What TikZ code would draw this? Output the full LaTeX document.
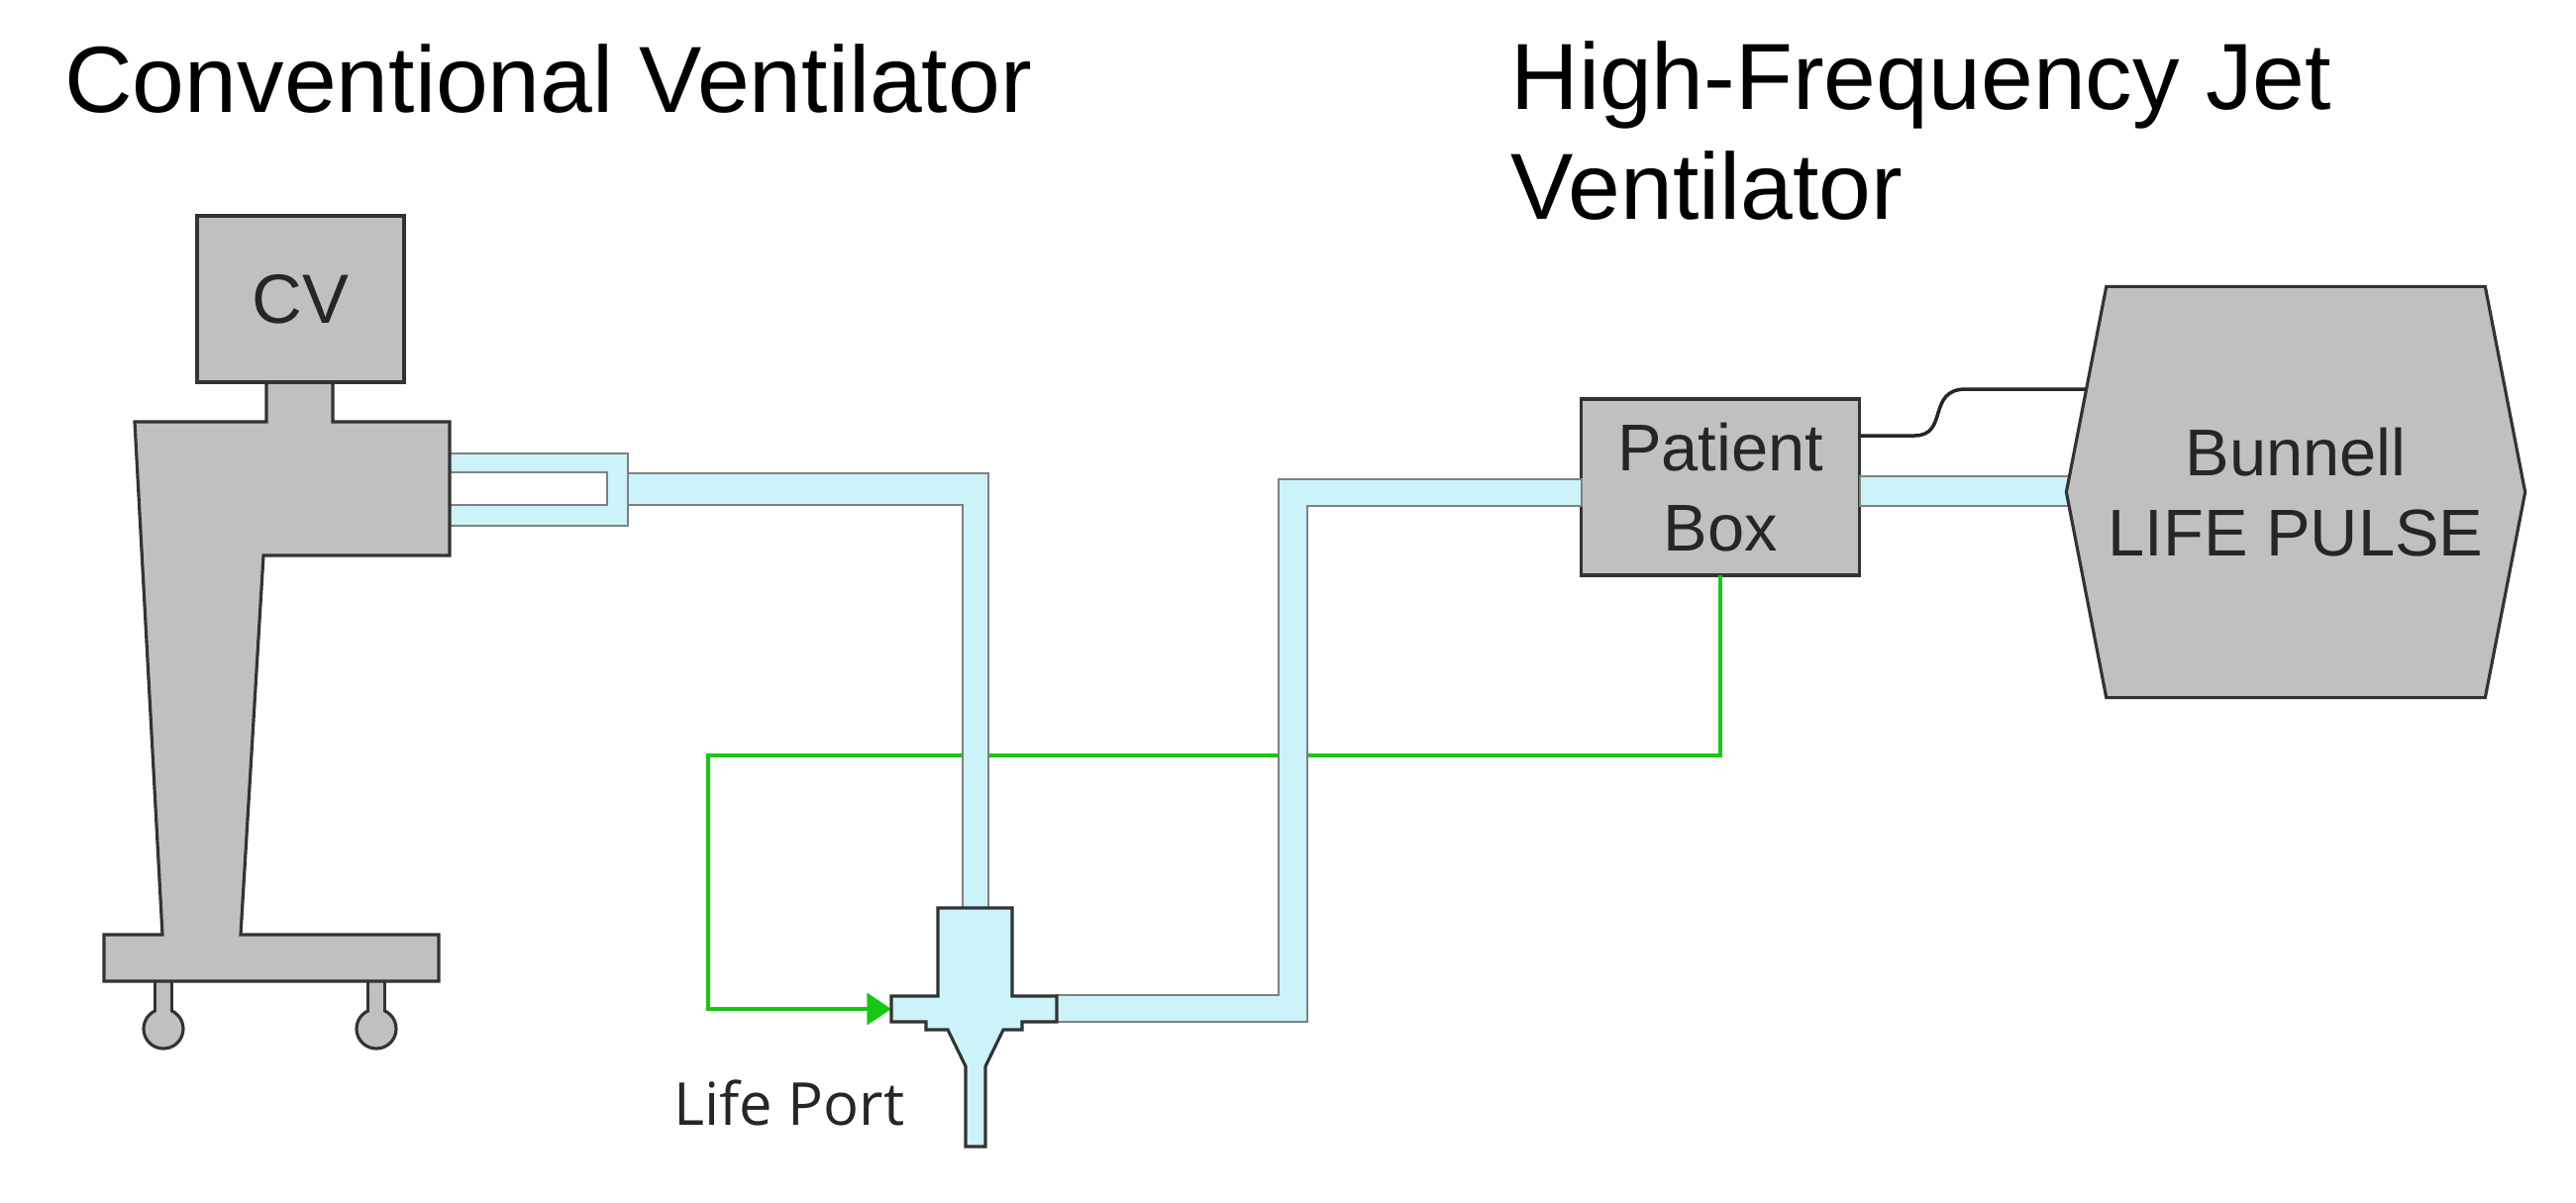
\documentclass[tikz,border=0pt]{standalone}
\usepackage{fontspec}
\setmainfont{Liberation Sans}
\newfontfamily\portfont{Open Sans}
\usetikzlibrary{arrows.meta}
\usetikzlibrary{positioning,shapes,shapes.symbols}
\definecolor{tubeblue}{RGB}{204,242,250}
\definecolor{devgray}{RGB}{192,192,192}
\definecolor{wiregreen}{RGB}{20,200,20}

\begin{document}
\begin{tikzpicture}[%
        x=0.01cm, y=-0.01cm,
        device/.style={draw=black!80, fill=devgray, line width=0.9pt},
        tube/.style={draw=gray, fill=tubeblue, line width=0.8pt},
        wire/.style={draw=wiregreen, line width=1.3pt},
        label/.style={font=\fontsize{19pt}{23pt}\selectfont, align=center, text=black!85},
        title/.style={font=\fontsize{27pt}{32pt}\selectfont, anchor=base west}
      ]
      \useasboundingbox (0,0) rectangle (2601,1214);
      % titles
      \node [title] (cvtitle) at (53,113) {Conventional Ventilator};
      \node [title] (jettitle) at (1513,110) {High-Frequency Jet};
      \node [title] (jettitle2) at (1513,221) {Ventilator};
      % boxes
      \node [device, rectangle, minimum width=2.81cm, minimum height=1.78cm, label] (box) at (1737,492) {Patient\\Box};
      \coordinate (boxwire) at (1878,440);
      \coordinate (hexwire) at (2106,393);
      \coordinate (boxgreen) at (1737,581);
      \coordinate (portgreen) at (900,1019);
      % green wire below the tubes
      \draw [wire, -{Triangle[length=7pt,width=9pt]}] (boxgreen) -- (1737,763) -- (715,763) -- (715,1019) -- (portgreen);
      % tubes
      \path [tube, even odd rule] (454,458) -- (634,458) -- (634,531) -- (454,531) -- cycle
            (454,477) -- (613,477) -- (613,510) -- (454,510) -- cycle;
      \path [tube] (634,478) -- (998,478) -- (998,917) -- (972,917) -- (972,510) -- (634,510) -- cycle;
      \path [tube] (1067,1005) -- (1291,1005) -- (1291,484) -- (1597,484) -- (1597,511) -- (1320,511) -- (1320,1032) -- (1067,1032) -- cycle;
      \path [tube] (1878,481) -- (2095,481) -- (2095,511) -- (1878,511) -- cycle;
      % Life Port
      \path [draw=black!80, fill=tubeblue, line width=0.9pt] (947,917) -- (1022,917) -- (1022,1006) -- (1067,1006) -- (1067,1032)
            -- (1032,1032) -- (1032,1040) -- (1013,1040) -- (995,1077) -- (995,1158) -- (975,1158) -- (975,1077)
            -- (957,1040) -- (935,1040) -- (935,1032) -- (900,1032) -- (900,1006) -- (947,1006) -- cycle;
      \node [font=\portfont\fontsize{17pt}{20pt}\selectfont, anchor=base west, text=black!85] (port) at (668,1136) {Life Port};
      % Bunnell
      \node [device, signal, signal to=west and east, signal pointer angle=158, minimum width=4.63cm, minimum height=4.15cm, inner sep=0pt, label] (bunnell) at (2318,497) {Bunnell\\LIFE PULSE};
      \draw [black!85, line width=1pt] (boxwire) -- (1933,440) .. controls (1968,440) and (1945,393) .. (1985,393) -- (hexwire);
      % conventional ventilator
      \foreach \wx in {165,380} {
        \path [device] (\wx-8,985) -- (\wx+8,985) -- (\wx+8,1022) -- (\wx-8,1022) -- cycle;
        \path [device] (\wx,1039) circle (20);
        \path [fill=devgray] (\wx-7,985) rectangle (\wx+7,1025);
      }
      \path [device] (136,426) -- (269,426) -- (269,380) -- (336,380) -- (336,426) -- (454,426) -- (454,561)
            -- (266,561) -- (243,944) -- (443,944) -- (443,991) -- (105,991) -- (105,944) -- (164,944) -- cycle;
      \node [device, rectangle, minimum width=2.09cm, minimum height=1.68cm, label, font=\fontsize{20pt}{24pt}\selectfont] (cv) at (303.5,302) {CV};
    \end{tikzpicture}
\end{document}
